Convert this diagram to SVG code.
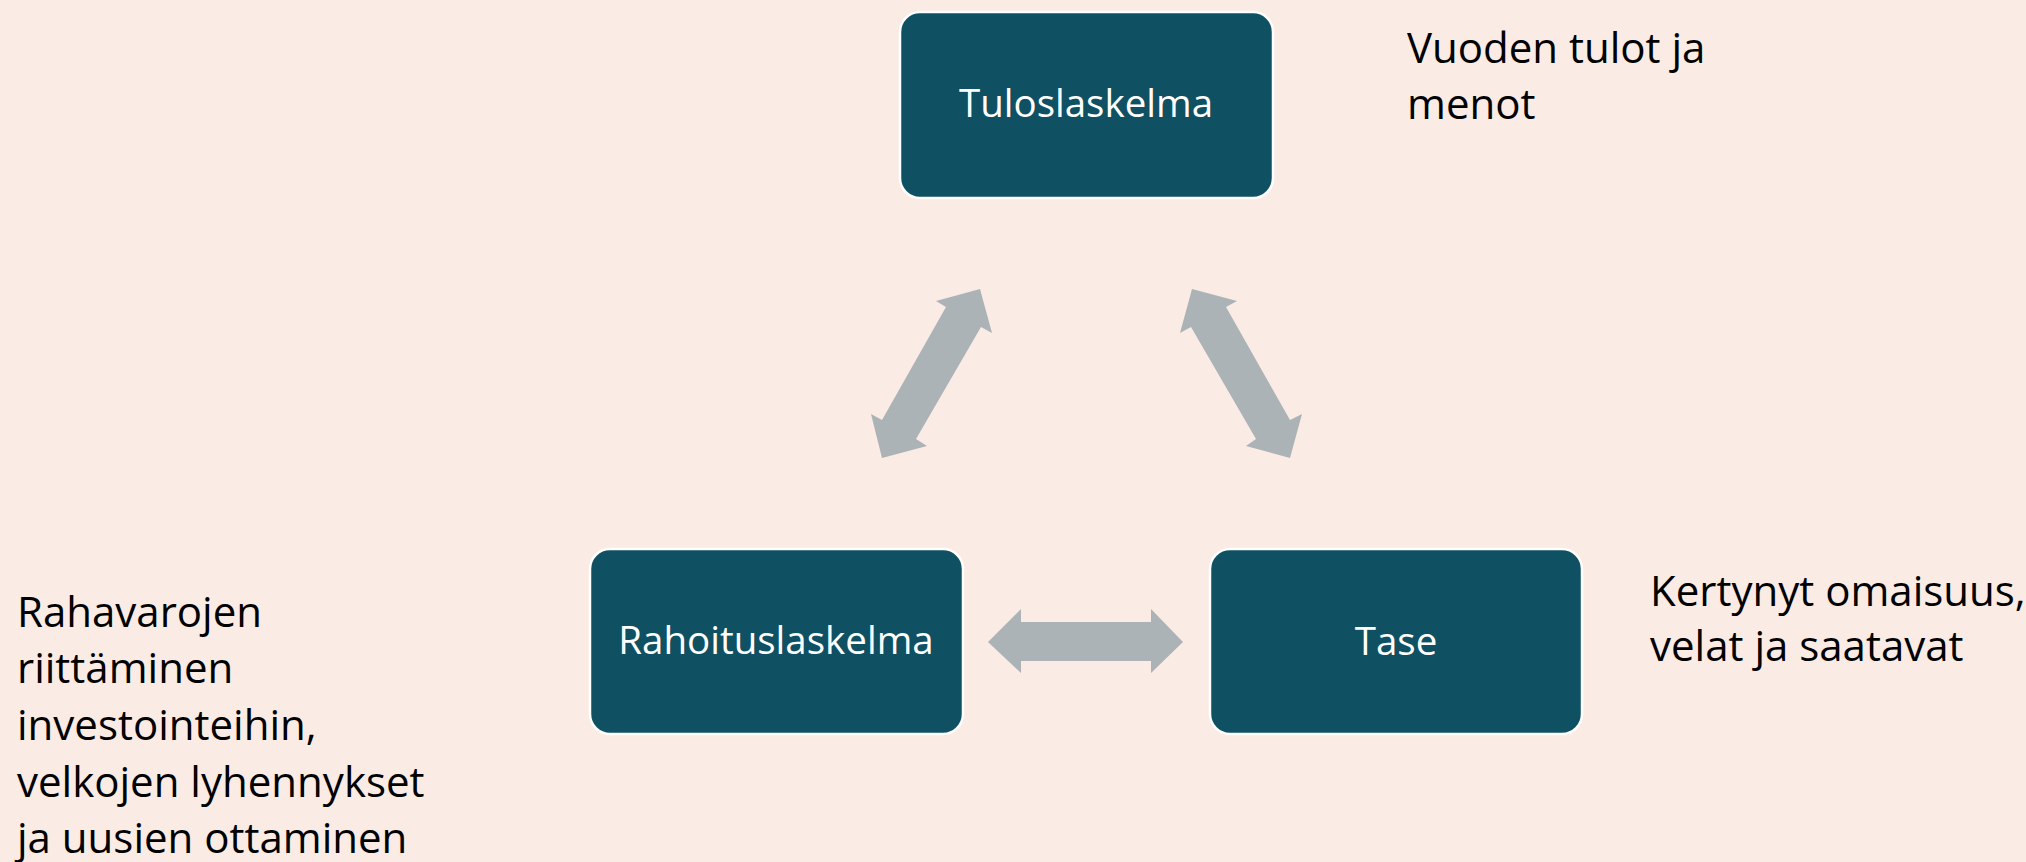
<svg xmlns="http://www.w3.org/2000/svg" width="2026" height="862" viewBox="0 0 2026 862">
<style>
.box{fill:#0F5062;stroke:#FFFFFF;stroke-width:2.5}
.boxt{font-family:"Open Sans","Liberation Sans",sans-serif;font-size:38.5px;fill:#FFFFFF;text-anchor:middle}
.note{font-family:"Open Sans","Liberation Sans",sans-serif;font-size:42px;fill:#000000}
.arr{fill:#ABB3B7}
</style>
<rect x="0" y="0" width="2026" height="862" fill="#FAEBE4"/>
<g id="connectors">
<polygon class="arr" points="980,289 936,301 946,307 882,420 871,414 882,458 927,446 916,439 981,327 992,333"/>
<polygon class="arr" points="1192,289 1237,301 1226,307 1290,420 1302,414 1290,458 1246,446 1256,439 1191,327 1180,333"/>
<polygon class="arr" points="988,642 1021,609 1021,622 1151,622 1151,609 1183,642 1151,673 1151,661 1021,661 1021,673"/>
</g>
<g id="tuloslaskelma">
<rect class="box" x="900" y="12" width="373" height="186" rx="20"/>
<text class="boxt" x="1086" y="117">Tuloslaskelma</text>
</g>
<g id="rahoituslaskelma">
<rect class="box" x="590" y="549" width="373" height="185" rx="20"/>
<text class="boxt" x="776" y="654">Rahoituslaskelma</text>
</g>
<g id="tase">
<rect class="box" x="1210" y="549" width="372" height="185" rx="20"/>
<text class="boxt" x="1396" y="655">Tase</text>
</g>
<g id="note-tulos">
<text class="note" x="1407" y="63">Vuoden tulot ja</text>
<text class="note" x="1407" y="119">menot</text>
</g>
<g id="note-tase">
<text class="note" x="1650" y="606">Kertynyt omaisuus,</text>
<text class="note" x="1650" y="661">velat ja saatavat</text>
</g>
<g id="note-rahoitus">
<text class="note" x="17" y="627">Rahavarojen</text>
<text class="note" x="17" y="683">riittäminen</text>
<text class="note" x="17" y="740">investointeihin,</text>
<text class="note" x="17" y="797">velkojen lyhennykset</text>
<text class="note" x="17" y="853">ja uusien ottaminen</text>
</g>
</svg>
